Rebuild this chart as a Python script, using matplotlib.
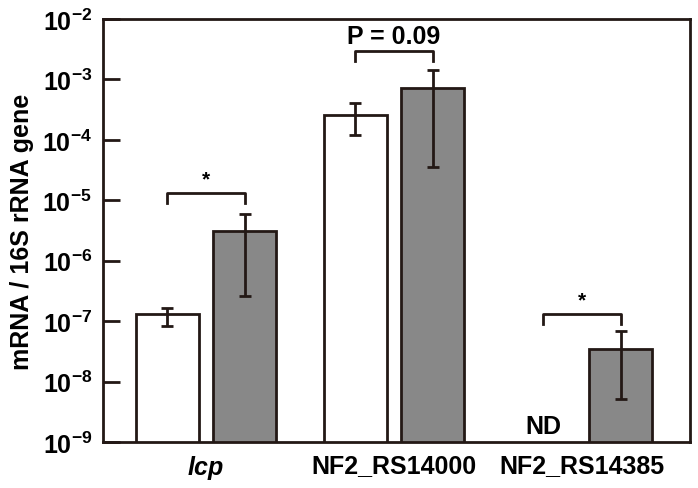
import numpy as np
import matplotlib
matplotlib.use("Agg")
import matplotlib.pyplot as plt

plt.rcParams['font.family'] = ['Liberation Sans', 'DejaVu Sans']
plt.rcParams['font.weight'] = 'bold'
plt.rcParams['mathtext.fontset'] = 'custom'
plt.rcParams['mathtext.rm'] = 'Liberation Sans:bold'
plt.rcParams['mathtext.bf'] = 'Liberation Sans:bold'
plt.rcParams['mathtext.it'] = 'Liberation Sans:bold:italic'

categories = ['lcp', 'NF2_RS14000', 'NF2_RS14385']
white_vals = [1.32e-7, 2.6e-4, np.nan]
white_lo = [8.3e-8, 1.2e-4, np.nan]
white_hi = [1.66e-7, 4.1e-4, np.nan]
gray_vals = [3.1e-6, 7.2e-4, 3.5e-8]
gray_lo = [2.6e-7, 3.6e-5, 5.1e-9]
gray_hi = [5.9e-6, 1.44e-3, 6.9e-8]
sig_labels = ['*', 'P = 0.09', '*']
bracket_y = [1.32e-5, 2.95e-3, 1.32e-7]

ink = '#231815'
fig = plt.figure(figsize=(6.98, 4.89), dpi=100)
ax = fig.add_axes([0.1476, 0.094, 0.8409, 0.865])

x = np.arange(len(categories))
off = 0.207
w = 0.335
wv = np.array(white_vals)
gv = np.array(gray_vals)
ax.bar(x - off, wv, w, color='white', edgecolor=ink, linewidth=2, zorder=2)
ax.bar(x + off, gv, w, color='#888888', edgecolor=ink, linewidth=2, zorder=2)
werr = [wv - np.array(white_lo), np.array(white_hi) - wv]
gerr = [gv - np.array(gray_lo), np.array(gray_hi) - gv]
ax.errorbar(x - off, wv, yerr=werr, fmt='none', ecolor=ink, elinewidth=2, capsize=4, capthick=2, zorder=3)
ax.errorbar(x + off, gv, yerr=gerr, fmt='none', ecolor=ink, elinewidth=2, capsize=4, capthick=2, zorder=3)

for i, (lab, by) in enumerate(zip(sig_labels, bracket_y)):
    x0, x1 = i - off, i + off
    leg = by / 10**(10 / 60.4)
    ax.plot([x0, x0, x1, x1], [leg, by, by, leg], color=ink, lw=2, zorder=3)
    if lab == '*':
        ax.text(i, by * 10**(5 / 60.4), lab, ha='center', va='bottom', fontsize=15, fontweight='bold')
    else:
        ax.text(i, by * 10**(3 / 60.4), lab, ha='center', va='bottom', fontsize=18, fontweight='bold')

ax.text(2 - off, 1.15e-9, 'ND', ha='center', va='bottom', fontsize=18, fontweight='bold')

ax.set_yscale('log')
ax.set_ylim(1e-9, 1e-2)
ax.set_xlim(-0.548, 2.574)
ax.set_yticks([10.0**k for k in range(-9, -1)])
ax.set_yticklabels([r'$10^{%d}$' % k for k in range(-9, -1)], fontsize=18)
ax.yaxis.set_minor_locator(matplotlib.ticker.NullLocator())
ax.tick_params(axis='y', direction='in', length=12, width=2, color=ink, pad=8)
ax.set_xticks(x)
ax.set_xticklabels([r'$\mathit{lcp}$', 'NF2_RS14000', 'NF2_RS14385'], fontsize=18, fontweight='bold')
ax.tick_params(axis='x', length=0, pad=8)
for s in ax.spines.values():
    s.set_linewidth(2)
    s.set_color(ink)
ax.set_ylabel('mRNA / 16S rRNA gene', fontsize=18, fontweight='bold', labelpad=6)

fig.savefig('out.png', dpi=100)
